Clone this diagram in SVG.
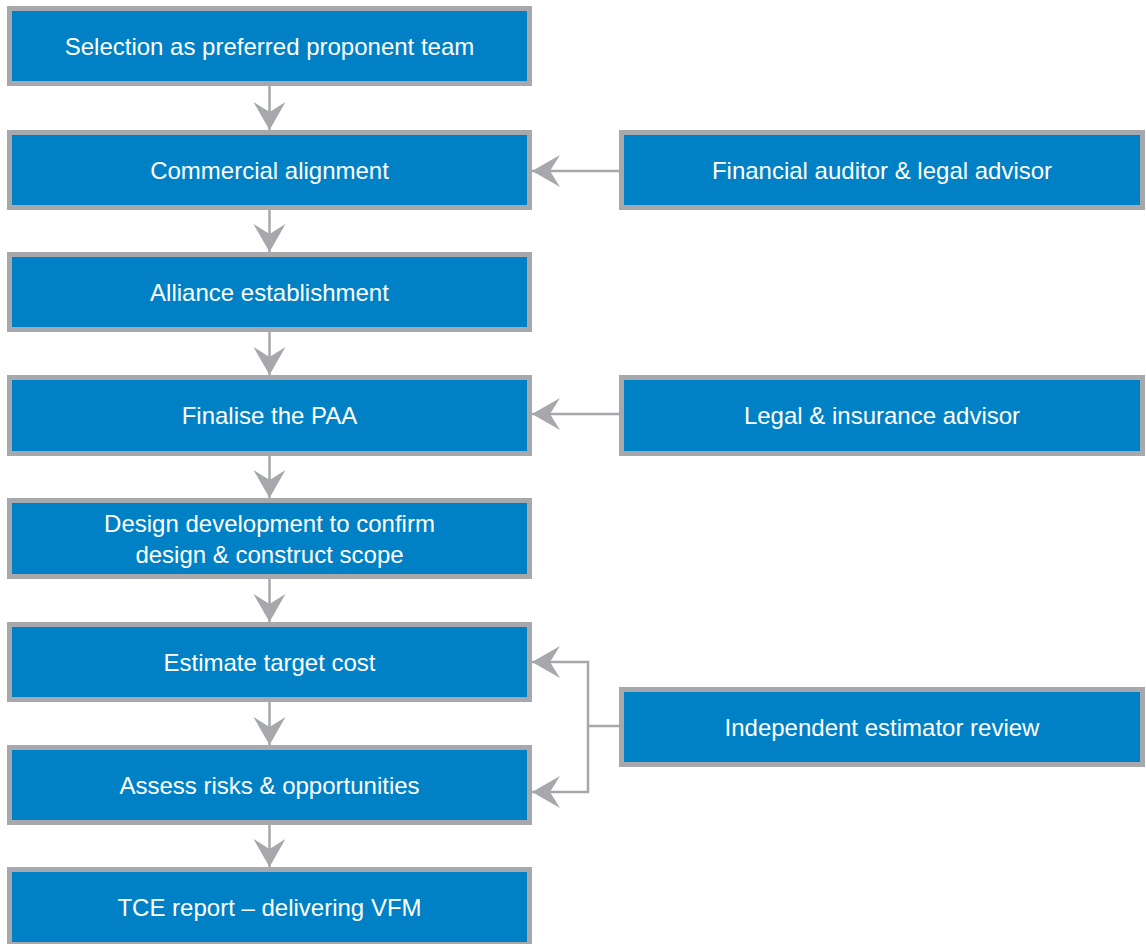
<svg xmlns="http://www.w3.org/2000/svg" width="1146" height="944" viewBox="0 0 1146 944">
  <style>
    .box { fill: #0081C6; stroke: #A6A8AB; stroke-width: 5; }
    .lbl { fill: #FFFFFF; font-family: "Liberation Sans", Arial, sans-serif; font-size: 24px; text-anchor: middle; }
    .wire { fill: none; stroke: #A6A8AB; stroke-width: 2.5; }
    .head { fill: #A6A8AB; }
  </style>
  <defs>
    <!-- arrowhead with swept-back barbs, tip at the origin, pointing +x -->
    <marker id="arrow" markerUnits="userSpaceOnUse" markerWidth="30" markerHeight="34"
            viewBox="-29 -17 30 34" refX="0" refY="0" orient="auto" overflow="visible">
      <path class="head" d="M0,0 L-28,-16 L-18,0 L-28,16 Z"/>
    </marker>
  </defs>
  <rect width="1146" height="944" fill="#FFFFFF"/>

  <!-- connectors -->
  <g id="connectors">
    <path class="wire" d="M269.5,86 V130" marker-end="url(#arrow)"/>
    <path class="wire" d="M269.5,210 V252" marker-end="url(#arrow)"/>
    <path class="wire" d="M269.5,332 V375" marker-end="url(#arrow)"/>
    <path class="wire" d="M269.5,456 V498" marker-end="url(#arrow)"/>
    <path class="wire" d="M269.5,579 V622" marker-end="url(#arrow)"/>
    <path class="wire" d="M269.5,702 V745" marker-end="url(#arrow)"/>
    <path class="wire" d="M269.5,825 V867" marker-end="url(#arrow)"/>

    <path class="wire" d="M619,171 H532" marker-end="url(#arrow)"/>
    <path class="wire" d="M619,414 H532" marker-end="url(#arrow)"/>

    <path class="wire" d="M619,726 H588"/>
    <path class="wire" d="M588,726 V662 H532" marker-end="url(#arrow)"/>
    <path class="wire" d="M588,726 V792 H532" marker-end="url(#arrow)"/>
  </g>

  <!-- main sequence -->
  <g id="selection">
    <rect class="box" x="9.5" y="8.5" width="520" height="75"/>
    <text class="lbl" x="269.5" y="54.6">Selection as preferred proponent team</text>
  </g>
  <g id="commercial">
    <rect class="box" x="9.5" y="132.5" width="520" height="75"/>
    <text class="lbl" x="269.5" y="178.6">Commercial alignment</text>
  </g>
  <g id="alliance">
    <rect class="box" x="9.5" y="254.5" width="520" height="75"/>
    <text class="lbl" x="269.5" y="300.6">Alliance establishment</text>
  </g>
  <g id="paa">
    <rect class="box" x="9.5" y="377.5" width="520" height="76"/>
    <text class="lbl" x="269.5" y="424.1">Finalise the PAA</text>
  </g>
  <g id="design">
    <rect class="box" x="9.5" y="500.5" width="520" height="76"/>
    <text class="lbl" x="269.5" y="531.6">Design development to confirm</text>
    <text class="lbl" x="269.5" y="562.6">design &amp; construct scope</text>
  </g>
  <g id="estimate">
    <rect class="box" x="9.5" y="624.5" width="520" height="75"/>
    <text class="lbl" x="269.5" y="670.6">Estimate target cost</text>
  </g>
  <g id="risks">
    <rect class="box" x="9.5" y="747.5" width="520" height="75"/>
    <text class="lbl" x="269.5" y="793.6">Assess risks &amp; opportunities</text>
  </g>
  <g id="tce">
    <rect class="box" x="9.5" y="869.5" width="520" height="75"/>
    <text class="lbl" x="269.5" y="915.6">TCE report – delivering VFM</text>
  </g>

  <!-- advisers -->
  <g id="auditor">
    <rect class="box" x="621.5" y="132.5" width="521" height="75"/>
    <text class="lbl" x="882" y="178.6">Financial auditor &amp; legal advisor</text>
  </g>
  <g id="insurance">
    <rect class="box" x="621.5" y="377.5" width="521" height="76"/>
    <text class="lbl" x="882" y="424.1">Legal &amp; insurance advisor</text>
  </g>
  <g id="estimator">
    <rect class="box" x="621.5" y="689.5" width="521" height="75"/>
    <text class="lbl" x="882" y="735.6">Independent estimator review</text>
  </g>
</svg>
